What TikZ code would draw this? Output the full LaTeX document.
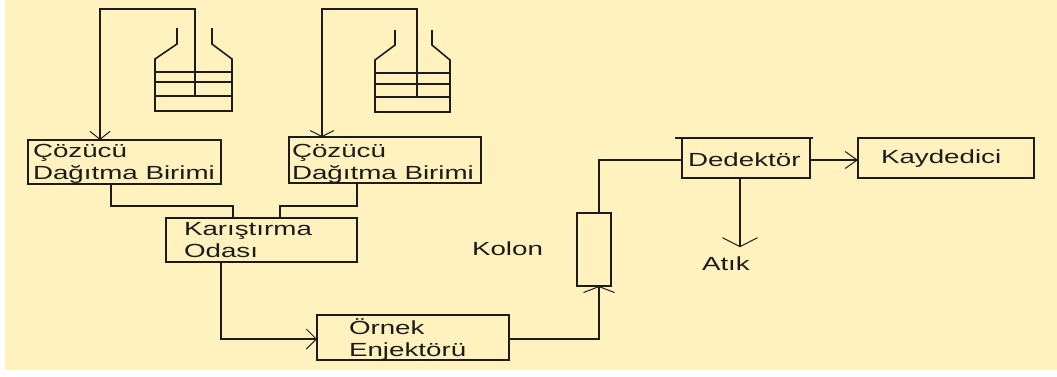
\documentclass[tikz,border=0pt]{standalone}
\usepackage{fontspec}
\usetikzlibrary{arrows.meta,calc}
\newfontfamily\labfont[FakeStretch=1.46]{Liberation Sans}
\definecolor{cream}{HTML}{FFF2BE}
\definecolor{ink}{HTML}{1C1C1C}
% width, height, left offset, first baseline from top, lines
\newcommand{\boxtext}[5]{\parbox[c][#2pt][t]{#1pt}{\lineskiplimit=-100pt\baselineskip=22pt\parindent=0pt\leftskip=#3pt\rightskip=-60pt\vspace*{\dimexpr#4pt-20pt\relax}\rule{0pt}{20pt}#5}}
\tikzset{
  x=1pt,y=-1pt,
  unit/.style={draw=ink,line width=1.6pt,inner sep=0pt,outer sep=0pt,font=\fontsize{19}{22}\selectfont\labfont,text=ink},
  plain/.style={inner sep=0pt,outer sep=0pt,font=\fontsize{19}{22}\selectfont\labfont,text=ink,anchor=base west},
  pipe/.style={draw=ink,line width=1.6pt,line join=miter},
  flow/.style 2 args={pipe,-{Straight Barb[length=#1pt,width=#2pt,line width=1pt]}},
  bottle/.style={draw=ink,line width=1.6pt}
}
\begin{document}
\begin{tikzpicture}
\useasboundingbox (0,0) rectangle (1057,376);
\fill[white] (0,0) rectangle (1057,376);
\fill[cream] (5,0) rectangle (1057,370);

% units
\node[unit] (cdb1) at (124.5,162) {\boxtext{193}{44}{5}{17}{Çözücü\\Dağıtma Birimi}};
\node[unit] (cdb2) at (385,160) {\boxtext{192}{46}{3}{20}{Çözücü\\Dağıtma Birimi}};
\node[unit] (mix) at (261.5,240) {\boxtext{191}{44}{18}{17}{Karıştırma\\Odası}};
\node[unit] (inj) at (413,337.5) {\boxtext{192}{45}{32}{19}{Örnek\\Enjektörü}};
\node[unit,minimum width=34pt,minimum height=73pt] (col) at (594,249.5) {};
\node[unit] (det) at (746,158) {\boxtext{128}{40}{6}{28}{Dedektör}};
\node[unit] (rec) at (946,158) {\boxtext{176}{40}{23}{25}{Kaydedici}};
\node[plain] (kolon) at (472,255) {Kolon};
\node[plain,outer ysep=9pt] (waste) at (702,270) {Atık};

% bottles
\draw[bottle] (177,28) -- (177,44) -- (155,59) -- (155,111) -- (232,111) -- (232,59) -- (212,44) -- (212,28);
\draw[bottle] (155,72) -- (232,72) (155,82) -- (232,82) (155,96) -- (232,96);
\draw[bottle] (395,30) -- (395,45) -- (375,60) -- (375,112) -- (450,112) -- (450,60) -- (432,45) -- (432,30);
\draw[bottle] (375,73) -- (450,73) (375,84) -- (450,84) (375,97) -- (450,97);
\coordinate (dip1) at (195,96);
\coordinate (dip2) at (417,97);

% connectors
\draw[flow={8}{20}] (dip1) -- (195,9) -- (100,9) -- (cdb1.north -| 100,0);
\draw[flow={6}{24}] (dip2) -- (417,9) -- (322,9) -- (cdb2.north -| 322,0);
\draw[pipe] (cdb1.south -| 111,0) -- (111,206) -- (233,206) -- (mix.north -| 233,0);
\draw[pipe] (cdb2.south -| 357,0) -- (357,206) -- (280,206) -- (mix.north -| 280,0);
\draw[flow={10}{20}] (mix.south -| 221,0) -- (221,339) -- (inj.west |- 0,339);
\draw[flow={6}{31}] (inj.east |- 0,339) -- ([xshift=5pt]col.south |- 0,339) -- ([xshift=5pt]col.south);
\draw[pipe] ([xshift=5pt]col.north) -- ([xshift=5pt]col.north |- 0,160) -- (det.west |- 0,160);
\draw[flow={12}{17}] (det.east |- 0,160) -- (rec.west |- 0,160);
\draw[flow={9}{35}] (det.south -| 740,0) -- (waste.north -| 740,0);
\draw[pipe] ([xshift=-7pt]det.north west) -- ([xshift=3pt]det.north east);
\end{tikzpicture}
\end{document}
